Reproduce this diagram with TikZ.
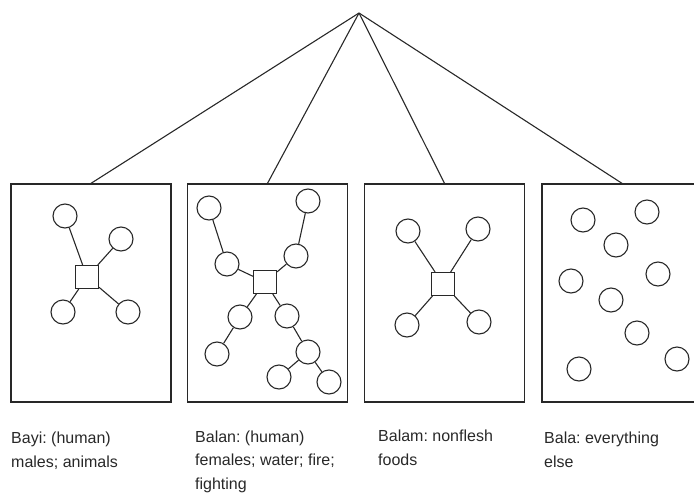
\documentclass[tikz,border=0pt]{standalone}
\usepackage{fontspec}
\setmainfont{Liberation Sans}
\usetikzlibrary{positioning}
\definecolor{tinta}{RGB}{40,40,40}
\frenchspacing

\begin{document}
\begin{tikzpicture}[x=1pt,y=-1pt,
panel/.style={draw=tinta,line width=1.3pt,minimum width=160pt,minimum height=218pt,inner sep=0pt},
ent/.style={draw=tinta,circle,line width=1.1pt,minimum size=24pt,inner sep=0pt},
hub/.style={draw=tinta,rectangle,line width=1.1pt,minimum size=23pt,inner sep=0pt},
lbl/.style={anchor=base west,align=left,inner sep=0pt,text=tinta,font=\fontsize{16}{23.5}\selectfont},
lnk/.style={draw=tinta,line width=1.1pt}
]
\useasboundingbox (0,0) rectangle (694,493);
\clip (0,0) rectangle (694,493);
\coordinate (top) at (359,13);

% four classes
\node[panel] (bayi) at (91,293) {};
\node[panel] (balan) at (267.5,293) {};
\node[panel] (balam) at (444.5,293) {};
\node[panel] (bala) at (622,293) {};
\foreach \x in {bayi,balan,balam,bala} \draw[lnk] (top)--(\x.north);

% Bayi
\node[hub] (h1) at (87,277) {};
\node[ent] (a1) at (65,216) {};
\node[ent] (a2) at (121,239) {};
\node[ent] (a3) at (63,312) {};
\node[ent] (a4) at (128,312) {};
\foreach \x in {a1,a2,a3,a4} \draw[lnk] (h1)--(\x);

% Balan
\node[hub] (h2) at (265,282) {};
\node[ent] (b1) at (209,208) {};
\node[ent] (b2) at (308,201) {};
\node[ent] (b3) at (227,264) {};
\node[ent] (b4) at (296,256) {};
\node[ent] (b5) at (240,317) {};
\node[ent] (b6) at (287,316) {};
\node[ent] (b7) at (217,354) {};
\node[ent] (b8) at (308,352) {};
\node[ent] (b9) at (279,377) {};
\node[ent] (b10) at (329,382) {};
\foreach \x in {b3,b4,b5,b6} \draw[lnk] (h2)--(\x);
\draw[lnk] (b3)--(b1);
\draw[lnk] (b4)--(b2);
\draw[lnk] (b5)--(b7);
\draw[lnk] (b6)--(b8);
\draw[lnk] (b8)--(b9);
\draw[lnk] (b8)--(b10);

% Balam
\node[hub] (h3) at (443,284) {};
\node[ent] (c1) at (408,231) {};
\node[ent] (c2) at (478,229) {};
\node[ent] (c3) at (407,325) {};
\node[ent] (c4) at (479,322) {};
\foreach \x in {c1,c2,c3,c4} \draw[lnk] (h3)--(\x);

% Bala
\foreach \x/\y [count=\i] in {583/220,647/212,616/245,571/281,658/274,611/300,637/333,677/359,579/369}
  \node[ent] (d\i) at (\x,\y) {};

% labels (base = last line)
\node[lbl] (t1) at (11,467) {Bayi: (human)\\males; animals};
\node[lbl] (t2) at (195,489) {Balan: (human)\\females; water; fire;\\fighting};
\node[lbl] (t3) at (378,465) {Balam: nonflesh\\foods};
\node[lbl] (t4) at (544,467) {Bala: everything\\else};
\end{tikzpicture}
\end{document}
